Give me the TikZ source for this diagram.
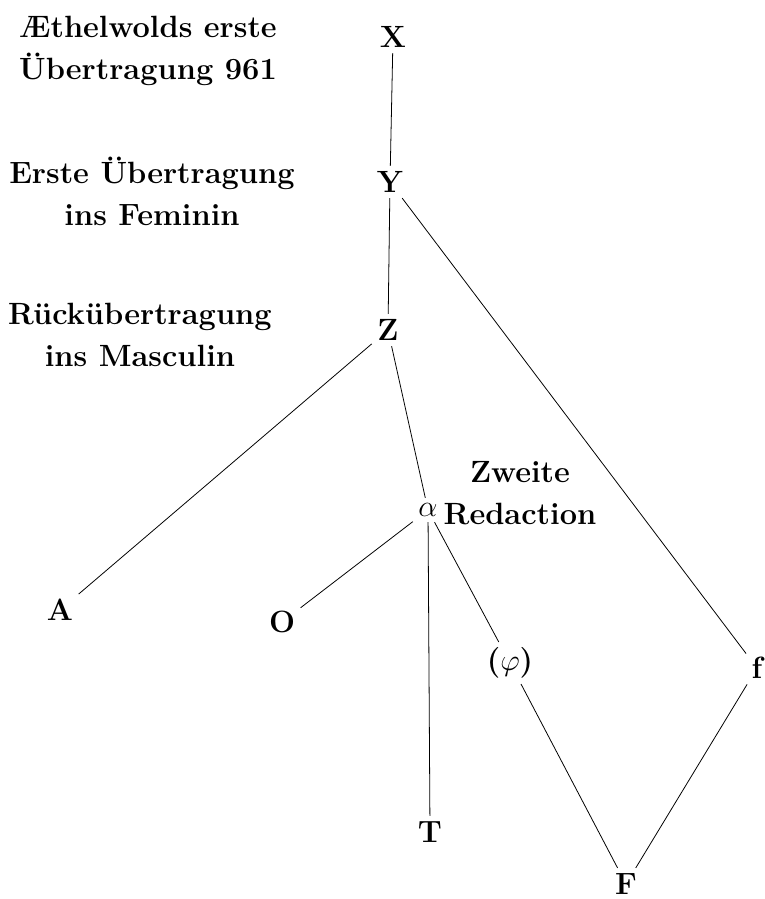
\documentclass[tikz,border=0pt]{standalone}
\usepackage{amsmath,amssymb}
\usepackage{tikz}

\begin{document}
\begin{tikzpicture}[x=0.02cm,y=-0.02cm,
  every node/.style={font=\fontsize{17.5}{24}\selectfont\bfseries},
  sigle/.style={inner sep=3pt},
  erkl/.style={align=center, inner sep=0pt},
  stemma/.style={line width=0.45pt}]

\useasboundingbox (0,0) rectangle (764,899);

% Sigla
\node[sigle] (X) at (393,37) {X};
\node[sigle] (Y) at (390,182) {Y};
\node[sigle] (Z) at (388,330) {Z};
\node[sigle] (alpha) at (428,510) {$\alpha$};
\node[sigle] (A) at (60,610) {A};
\node[sigle] (O) at (282,622) {O};
\node[sigle] (T) at (430,832) {T};
\node[sigle] (phi) at (510,663) {($\varphi$)};
\node[sigle] (f) at (757,668) {f};
\node[sigle] (F) at (626,884) {F};

% Explanations
\node[erkl] (lx) at (148,51) {Æthelwolds erste\\Übertragung 961};
\node[erkl] (ly) at (152,191) {Erste Übertragung\\ins Feminin};
\node[erkl] (lz) at (140,335) {Rückübertragung\\ins Masculin};
\node[erkl] (lalpha) at (520,493) {Zweite\\Redaction};

% Stemma
\draw[stemma] (X) -- (Y);
\draw[stemma] (Y) -- (Z);
\draw[stemma] (Y) -- (f);
\draw[stemma] (Z) -- (A);
\draw[stemma] (Z) -- (alpha);
\draw[stemma] (alpha) -- (O);
\draw[stemma] (alpha) -- (T);
\draw[stemma] (alpha) -- (phi);
\draw[stemma] (phi) -- (F);
\draw[stemma] (f) -- (F);

\end{tikzpicture}
\end{document}
